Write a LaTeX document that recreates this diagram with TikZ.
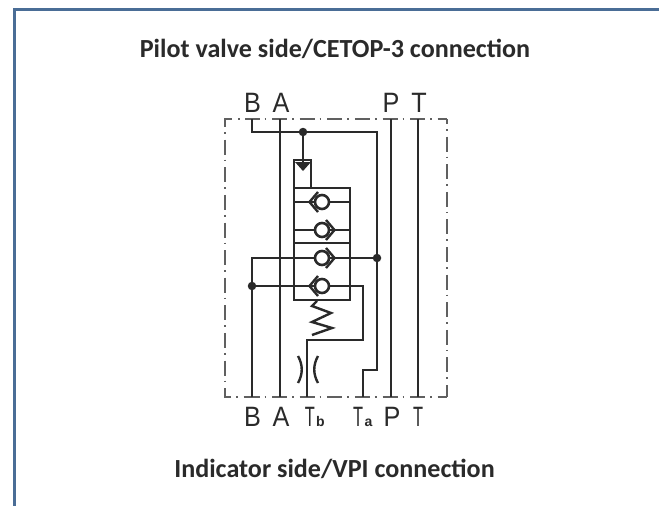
\documentclass[tikz,border=0pt]{standalone}
\usepackage{fontspec}
\setmainfont{Carlito}
\newfontfamily\lab{Liberation Sans}
\definecolor{frameblue}{HTML}{4A6D96}
\definecolor{ink}{HTML}{2A2A2A}
\tikzset{
  x=1pt,y=-1pt,
  pipe/.style={draw=ink,line width=2.8pt,line join=miter},
  fine pipe/.style={draw=ink,line width=2.4pt,line join=miter},
  title/.style={font=\fontsize{26.1}{30}\selectfont\bfseries,text=ink,inner sep=0pt,anchor=base},
  port/.style={font=\lab\fontsize{28}{28}\selectfont,text=ink,inner sep=0pt,anchor=base,xscale=0.9},
  narrowport/.style={port,xscale=0.65},
  sub/.style={font=\lab\fontsize{14}{14}\selectfont\bfseries,text=ink,inner sep=0pt,anchor=base},
  junction/.style={circle,fill=ink,inner sep=0pt,minimum size=8.5pt},
  ball/.style={circle,draw=ink,line width=2.6pt,fill=white,inner sep=0pt,minimum size=14pt},
}
\newcommand{\checkleft}[1]{%
  \draw[fine pipe] (322-4,#1-10) -- (322-12.5,#1) -- (322-4,#1+10);
  \node[ball] at (322,#1) {};}
\newcommand{\checkright}[1]{%
  \draw[fine pipe] (322+4,#1-10) -- (322+12.5,#1) -- (322+4,#1+10);
  \node[ball] at (322,#1) {};}
\begin{document}
\begin{tikzpicture}
\useasboundingbox (0,0) rectangle (659,506);
\fill[white] (0,0) rectangle (659,506);
% frame
\draw[frameblue,line width=3pt,line cap=butt] (14.5,506) -- (14.5,9.5) -- (659,9.5);
% titles
\node[title] (top) at (335,57) {Pilot valve side/CETOP-3 connection};
\node[title] (bot) at (334.5,477) {Indicator side/VPI connection};
% dash-dot enclosure
\begin{scope}[draw=gray!75!black,line width=1.7pt]
\draw[dash pattern=on 15pt off 5pt on 1.6pt off 6pt,dash phase=7.5pt] (252,119) -- (447,119);
\draw[dash pattern=on 15pt off 5pt on 1.6pt off 6pt,dash phase=7.5pt] (252,397) -- (447,397);
\draw[dash pattern=on 15pt off 5pt on 1.6pt off 6pt,dash phase=7.5pt] (252,119) -- (225,119) -- (225,397) -- (252,397);
\draw[dash pattern=on 15pt off 5pt on 1.6pt off 6pt,dash phase=10pt] (447,119) -- (447,397);
\end{scope}
% ports
\coordinate (Bt) at (252,119); \coordinate (At) at (280,119);
\coordinate (Pt) at (391,119); \coordinate (Tt) at (418,119);
\coordinate (Bb) at (252,397); \coordinate (Ab) at (280,397);
\coordinate (Pb) at (391,397); \coordinate (Tb) at (418,397);
\coordinate (Tbb) at (307,397); \coordinate (Tab) at (363,397);
\draw[pipe] (At) -- (Ab);
\draw[pipe] (Pt) -- (Pb);
\draw[pipe] (Tt) -- (Tb);
% upper line
\draw[pipe] (Bt) -- (252,132) -- (377,132) -- (377,370) -- (363,370) -- (Tab);
\node[junction] (j1) at (303,132) {};
\draw[pipe] (j1) -- (303,165);
\fill[ink] (295,162) -- (311,162) -- (303,171) -- cycle;
% pilot box
\draw[pipe] (294,188) -- (294,160) -- (311,160) -- (311,188);
% valve block
\draw[pipe] (294,188) rectangle (350,300);
\draw[pipe] (294,202) -- (350,202);
\draw[pipe] (294,230) -- (350,230);
\draw[pipe] (294,243) -- (350,243);
% through lines
\draw[pipe] (Bb) -- (252,258) -- (377,258);
\draw[pipe] (252,286) -- (363,286) -- (363,340) -- (307,340) -- (Tbb);
\node[junction] (j2) at (377,258) {};
\node[junction] (j3) at (252,286) {};
% checks
\checkleft{202}
\checkright{230}
\checkright{258}
\checkleft{286}
% spring
\draw[fine pipe] (317,301) -- (312,306) -- (331,313) -- (312,322) -- (332,328) -- (312,335);
% orifice
\draw[fine pipe] (298,356) .. controls (303,365) and (303,374) .. (298,383);
\draw[fine pipe] (318,356) .. controls (313,365) and (313,374) .. (318,383);
% labels
\node[port] (lBt) at (252.5,112.5) {B};
\node[port] (lAt) at (281,112.5) {A};
\node[port] (lPt) at (391,112.5) {P};
\node[port] (lTt) at (419,112.5) {T};
\node[port] (lBb) at (252.5,426.5) {B};
\node[port] (lAb) at (281,426.5) {A};
\node[narrowport] (lTb) at (310,426.5) {T};
\node[sub] (lb) at (320.5,426.5) {b};
\node[narrowport] (lTa) at (358,426.5) {T};
\node[sub] (la) at (368.5,426.5) {a};
\node[port] (lPb) at (392,426.5) {P};
\node[narrowport] (lTbt) at (418,426.5) {T};
\end{tikzpicture}
\end{document}
